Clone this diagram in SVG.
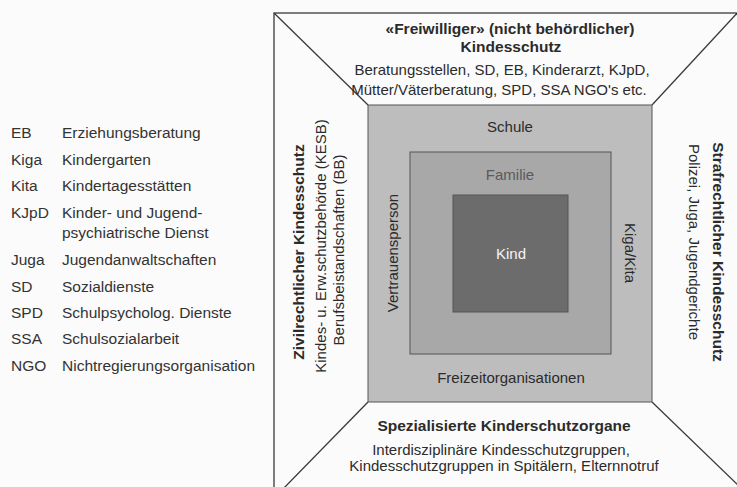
<svg xmlns="http://www.w3.org/2000/svg" width="737" height="487" viewBox="0 0 737 487">
<style>
  text { font-family: "Liberation Sans", Arial, sans-serif; fill: #2b2b2b; font-size: 15px; }
  .b { font-weight: bold; font-size: 15.5px; }
  .c { text-anchor: middle; }
  .v { dominant-baseline: central; text-anchor: middle; }
  .lg { font-size: 15.5px; fill: #333; }
  .edge { stroke: #3a3a3a; stroke-width: 1.3; fill: none; }
  .box { stroke: #555; stroke-width: 1; }
</style>
<rect x="0" y="0" width="737" height="487" fill="#fbfbfb"/>
<g id="legend">
  <text class="lg" x="11" y="138">EB</text><text class="lg" x="62" y="138">Erziehungsberatung</text>
  <text class="lg" x="11" y="165">Kiga</text><text class="lg" x="62" y="165">Kindergarten</text>
  <text class="lg" x="11" y="191">Kita</text><text class="lg" x="62" y="191">Kindertagesstätten</text>
  <text class="lg" x="11" y="218">KJpD</text><text class="lg" x="62" y="218">Kinder- und Jugend-</text>
  <text class="lg" x="62" y="238">psychiatrische Dienst</text>
  <text class="lg" x="11" y="265">Juga</text><text class="lg" x="62" y="265">Jugendanwaltschaften</text>
  <text class="lg" x="11" y="292">SD</text><text class="lg" x="62" y="292">Sozialdienste</text>
  <text class="lg" x="11" y="318">SPD</text><text class="lg" x="62" y="318">Schulpsycholog. Dienste</text>
  <text class="lg" x="11" y="344">SSA</text><text class="lg" x="62" y="344">Schulsozialarbeit</text>
  <text class="lg" x="11" y="371">NGO</text><text class="lg" x="62" y="371">Nichtregierungsorganisation</text>
</g>
<g id="frame">
  <rect x="274" y="13" width="480" height="490" fill="#e6e6e6" class="edge"/>
</g>
<g id="connectors">
  <line class="edge" x1="274" y1="13" x2="368" y2="105"/>
  <line class="edge" x1="740" y1="10" x2="652" y2="105"/>
  <line class="edge" x1="368" y1="402" x2="282" y2="490"/>
  <line class="edge" x1="652" y1="402" x2="740" y2="487"/>
</g>
<g id="freiwilliger">
  <text class="b c" x="510" y="34">«Freiwilliger» (nicht behördlicher)</text>
  <text class="b c" x="511" y="52">Kindesschutz</text>
  <text class="c" x="502" y="75">Beratungsstellen, SD, EB, Kinderarzt, KJpD,</text>
  <text class="c" x="499" y="95">Mütter/Väterberatung, SPD, SSA NGO's etc.</text>
</g>
<g id="zivilrecht">
  <text class="b v" transform="rotate(-90 298 252)" x="298" y="252">Zivilrechtlicher Kindesschutz</text>
  <text class="v" transform="rotate(-90 320 246)" x="320" y="246">Kindes- u. Erw.schutzbehörde (KESB)</text>
  <text class="v" transform="rotate(-90 338 250)" x="338" y="250">Berufsbeistandschaften (BB)</text>
</g>
<g id="strafrecht">
  <text class="b v" transform="rotate(90 718 252)" x="718" y="252">Strafrechtlicher Kindesschutz</text>
  <text class="v" transform="rotate(90 694 242)" x="694" y="242">Polizei, Juga, Jugendgerichte</text>
</g>
<g id="spezialisiert">
  <text class="b c" x="504" y="431">Spezialisierte Kinderschutzorgane</text>
  <text class="c" x="501" y="455">Interdisziplinäre Kindesschutzgruppen,</text>
  <text class="c" x="504" y="471">Kindesschutzgruppen in Spitälern, Elternnotruf</text>
</g>
<g id="schule">
  <rect class="box" x="368" y="105" width="284" height="297" fill="#bdbdbd"/>
  <text class="c" x="510" y="132">Schule</text>
  <text class="c" x="511" y="383">Freizeitorganisationen</text>
  <text class="v" transform="rotate(-90 392 253)" x="392" y="253">Vertrauensperson</text>
  <text class="v" transform="rotate(90 630 253)" x="630" y="253">Kiga/Kita</text>
</g>
<g id="familie">
  <rect class="box" x="410" y="152" width="201" height="202" fill="#a8a8a8"/>
  <text class="c" x="510" y="180" style="fill:#5a5a5a">Familie</text>
</g>
<g id="kind">
  <rect class="box" x="453" y="195" width="115" height="117" fill="#6c6c6c"/>
  <text class="c" x="511" y="259" style="fill:#f4f4f4">Kind</text>
</g>
</svg>
